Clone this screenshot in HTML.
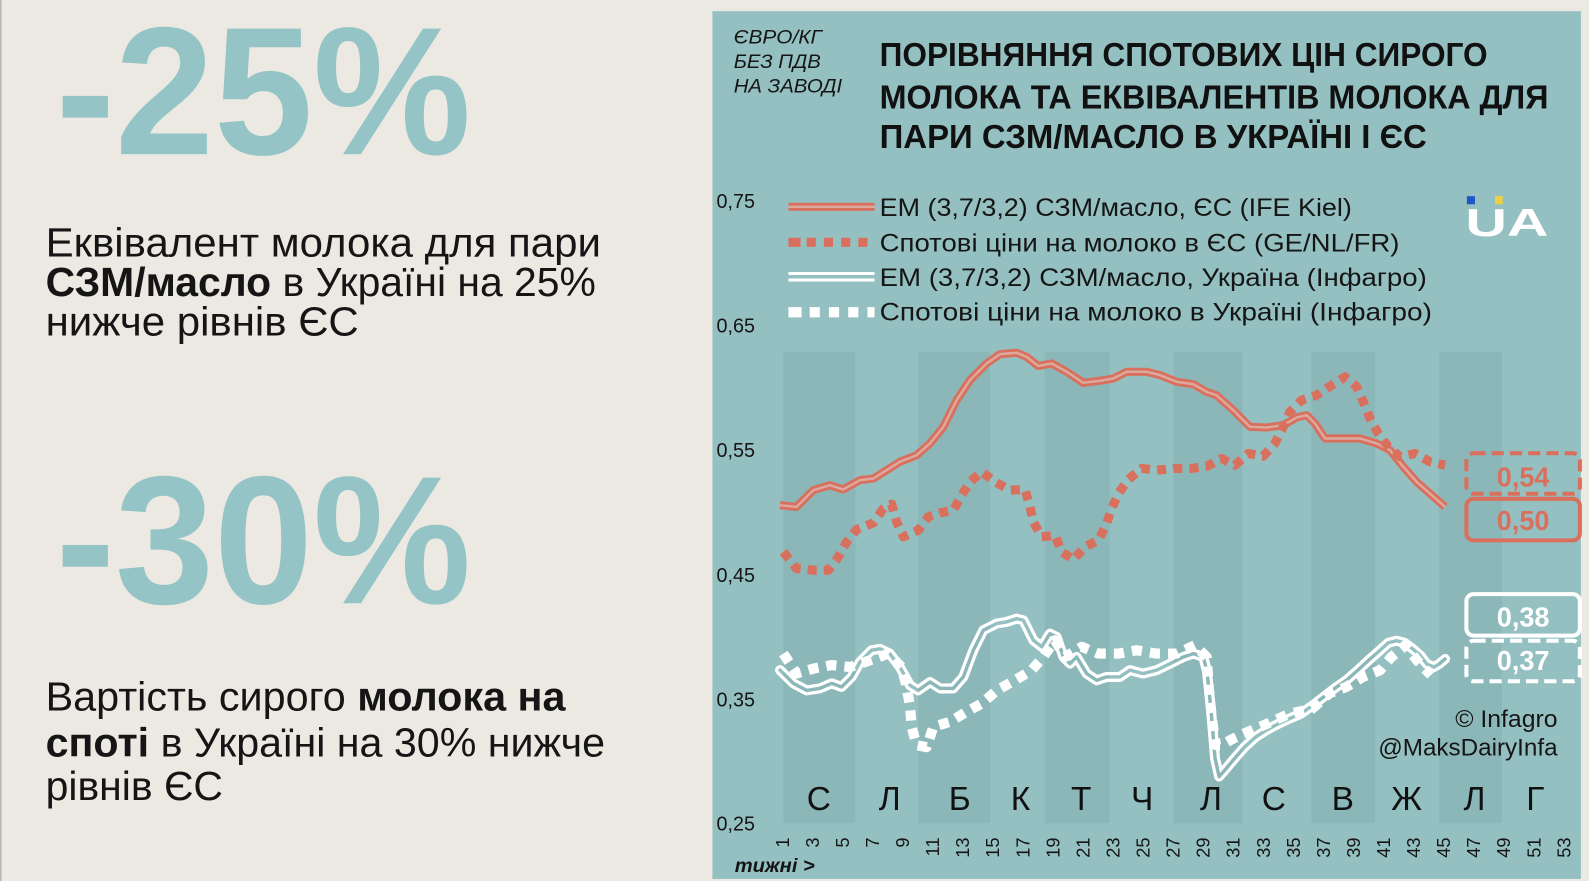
<!DOCTYPE html>
<html>
<head>
<meta charset="utf-8">
<style>
html,body{margin:0;padding:0;background:#ECE9E2;overflow:hidden;}
svg{display:block;}
text{font-family:"Liberation Sans","Noto Sans CJK SC",sans-serif;}
</style>
</head>
<body>
<svg width="1589" height="881" viewBox="0 0 1568 869" preserveAspectRatio="none" xmlns="http://www.w3.org/2000/svg" xmlns:xlink="http://www.w3.org/1999/xlink">
<defs>
  <polyline id="uaEm" fill="none" stroke-linejoin="round" stroke-linecap="round"
      points="769.7,661 782.8,674 796,681 809,679 820.7,674 830.5,677.6 840.4,667.7 848.6,653 860,641.4 868.4,640 878,644.7 888,658 898,676 906,681 917.7,672.7 927.6,679 940.7,679 950.6,667.7 960.5,641.4 970.3,621.7 983.5,615 993.4,613.4 1003.2,610.2 1009.8,611.8 1019.7,631.5 1027.9,638 1036,625 1042.7,628.3 1049.3,648 1055.9,654.6 1062.4,648 1072.3,664.4 1082.2,671 1092,667.7 1105,667.7 1115,661 1128,664.4 1141.4,661 1154.5,654.6 1167.7,648 1177.6,644.7 1187.4,648 1191,662 1195,700 1199,748 1203,766 1210,758 1216.6,750 1228,737 1239,727 1250,720 1261.3,714 1272,709 1283.7,704 1295,696 1306,687.5 1317,679 1328.5,671 1340,661 1350.8,651 1360,643 1370,634 1378,632 1386,634 1394,640 1401,646 1408,655 1415,658 1420,655 1426,650"/>
  <mask id="mUaEm" maskUnits="userSpaceOnUse" x="0" y="0" width="1568" height="869">
    <rect x="0" y="0" width="1568" height="869" fill="black"/>
    <use href="#uaEm" xlink:href="#uaEm" stroke="white" stroke-width="10"/>
    <use href="#uaEm" xlink:href="#uaEm" stroke="black" stroke-width="3.4"/>
  </mask>
  <mask id="mLeg" maskUnits="userSpaceOnUse" x="0" y="0" width="1568" height="869">
    <rect x="0" y="0" width="1568" height="869" fill="black"/>
    <line x1="778" y1="273" x2="863" y2="273" stroke="white" stroke-width="9.5"/>
    <line x1="778" y1="273" x2="863" y2="273" stroke="black" stroke-width="3.4"/>
  </mask>
</defs>

<!-- page background -->
<rect x="0" y="0" width="1568" height="869" fill="#ECE9E2"/>
<rect x="0" y="0" width="1.5" height="869" fill="#B9B5AC"/>

<!-- LEFT PANEL -->
<text x="55" y="152" font-size="180" font-weight="bold" fill="#94C4C6" textLength="410" lengthAdjust="spacingAndGlyphs">-25%</text>
<text x="45" y="253" font-size="40" fill="#151515" textLength="548" lengthAdjust="spacingAndGlyphs">Еквівалент молока для пари</text>
<text x="45" y="292" font-size="40" fill="#151515" textLength="543" lengthAdjust="spacingAndGlyphs"><tspan font-weight="bold">СЗМ/масло</tspan> в Україні на 25%</text>
<text x="45" y="331" font-size="40" fill="#151515" textLength="309" lengthAdjust="spacingAndGlyphs">нижче рівнів ЄС</text>

<text x="55" y="595" font-size="180" font-weight="bold" fill="#94C4C6" textLength="410" lengthAdjust="spacingAndGlyphs">-30%</text>
<text x="45" y="701" font-size="40" fill="#151515" textLength="513" lengthAdjust="spacingAndGlyphs">Вартість сирого <tspan font-weight="bold">молока на</tspan></text>
<text x="45" y="746" font-size="40" fill="#151515" textLength="552" lengthAdjust="spacingAndGlyphs"><tspan font-weight="bold">споті</tspan> в Україні на 30% нижче</text>
<text x="45" y="789" font-size="40" fill="#151515" textLength="175" lengthAdjust="spacingAndGlyphs">рівнів ЄС</text>

<!-- RIGHT PANEL -->
<rect x="703" y="11" width="857" height="856" fill="#95C0C1"/>

<!-- month bands -->
<g fill="#8CB7B9">
  <rect x="773" y="347" width="71" height="465"/>
  <rect x="906" y="347" width="71" height="465"/>
  <rect x="1031" y="347" width="64" height="465"/>
  <rect x="1158" y="347" width="68" height="465"/>
  <rect x="1294" y="347" width="63" height="465"/>
  <rect x="1420" y="347" width="62" height="465"/>
</g>

<!-- unit label -->
<g font-size="19" font-style="italic" fill="#151515">
  <text x="724" y="43" textLength="87" lengthAdjust="spacingAndGlyphs">ЄВРО/КГ</text>
  <text x="724" y="67" textLength="86" lengthAdjust="spacingAndGlyphs">БЕЗ ПДВ</text>
  <text x="724" y="91" textLength="107" lengthAdjust="spacingAndGlyphs">НА ЗАВОДІ</text>
</g>

<!-- title -->
<g font-size="33" font-weight="bold" fill="#111">
  <text x="868" y="65" textLength="600" lengthAdjust="spacingAndGlyphs">ПОРІВНЯННЯ СПОТОВИХ ЦІН СИРОГО</text>
  <text x="868" y="107" textLength="660" lengthAdjust="spacingAndGlyphs">МОЛОКА ТА ЕКВІВАЛЕНТІВ МОЛОКА ДЛЯ</text>
  <text x="868" y="146" textLength="540" lengthAdjust="spacingAndGlyphs">ПАРИ СЗМ/МАСЛО В УКРАЇНІ І ЄС</text>
</g>

<!-- y tick labels -->
<g font-size="20" fill="#151515">
  <text x="707" y="205" textLength="38" lengthAdjust="spacingAndGlyphs">0,75</text>
  <text x="707" y="328" textLength="38" lengthAdjust="spacingAndGlyphs">0,65</text>
  <text x="707" y="451" textLength="38" lengthAdjust="spacingAndGlyphs">0,55</text>
  <text x="707" y="574" textLength="38" lengthAdjust="spacingAndGlyphs">0,45</text>
  <text x="707" y="697" textLength="38" lengthAdjust="spacingAndGlyphs">0,35</text>
  <text x="707" y="819" textLength="38" lengthAdjust="spacingAndGlyphs">0,25</text>
</g>

<!-- legend -->
<line x1="778" y1="204" x2="863" y2="204" stroke="#D9705E" stroke-width="8"/>
<line x1="778" y1="204" x2="863" y2="204" stroke="#DDA99E" stroke-width="2.4"/>
<line x1="778" y1="239" x2="863" y2="239" stroke="#D9705E" stroke-width="9" stroke-dasharray="12 6 9 8 9 8 9 8 9 8"/>
<line x1="778" y1="273" x2="863" y2="273" stroke="#FFFFFF" stroke-width="9.5" mask="url(#mLeg)"/>
<line x1="778" y1="308" x2="863" y2="308" stroke="#FFFFFF" stroke-width="10" stroke-dasharray="13 8 10 9 10 9 10 9"/>
<g font-size="25" fill="#151515">
  <text x="868" y="213" textLength="466" lengthAdjust="spacingAndGlyphs">ЕМ (3,7/3,2) СЗМ/масло, ЄС (IFE Kiel)</text>
  <text x="868" y="248" textLength="513" lengthAdjust="spacingAndGlyphs">Спотові ціни на молоко в ЄС (GE/NL/FR)</text>
  <text x="868" y="282" textLength="540" lengthAdjust="spacingAndGlyphs">ЕМ (3,7/3,2) СЗМ/масло, Україна (Інфагро)</text>
  <text x="868" y="316" textLength="545" lengthAdjust="spacingAndGlyphs">Спотові ціни на молоко в Україні (Інфагро)</text>
</g>

<!-- UA logo -->
<rect x="1447.5" y="193.5" width="8" height="8" fill="#2255C8"/>
<rect x="1475.3" y="193.5" width="7.5" height="8" fill="#F0D040"/>
<text x="1446" y="233" font-size="38" font-weight="bold" fill="#FFFFFF" textLength="82" lengthAdjust="spacingAndGlyphs">UA</text>

<!-- EU EM series -->
<polyline fill="none" stroke="#D9705E" stroke-width="8" stroke-linejoin="round" stroke-linecap="butt"
  points="769.7,498.3 786,500 802.6,483.5 819,478.6 832,482.8 848.6,473.6 861.8,472 874.9,463.8 888,455.5 904.5,449 917.7,437.4 930.9,421 944,394.7 957.2,374.9 973.6,358.5 986.8,349.3 1003.2,348 1013,352 1024.6,361 1037.8,358.5 1052.6,366.7 1069,377.6 1085.5,375.6 1098.6,373.3 1111.8,366.7 1131.5,366.7 1144.7,370 1161,376.6 1177.6,379 1190.7,386.5 1200.6,390 1217,404.6 1233.4,421 1249.9,421.7 1266.3,419.4 1279.5,411.8 1289.4,409.5 1297.6,417.7 1307.5,432.5 1322.3,432.5 1342,432.5 1358.5,437.4 1371.6,444 1384.8,460.5 1397.9,475.3 1411,486.8 1426,500"/>
<polyline fill="none" stroke="#DDA99E" stroke-width="2.4" stroke-linejoin="round"
  points="769.7,498.3 786,500 802.6,483.5 819,478.6 832,482.8 848.6,473.6 861.8,472 874.9,463.8 888,455.5 904.5,449 917.7,437.4 930.9,421 944,394.7 957.2,374.9 973.6,358.5 986.8,349.3 1003.2,348 1013,352 1024.6,361 1037.8,358.5 1052.6,366.7 1069,377.6 1085.5,375.6 1098.6,373.3 1111.8,366.7 1131.5,366.7 1144.7,370 1161,376.6 1177.6,379 1190.7,386.5 1200.6,390 1217,404.6 1233.4,421 1249.9,421.7 1266.3,419.4 1279.5,411.8 1289.4,409.5 1297.6,417.7 1307.5,432.5 1322.3,432.5 1342,432.5 1358.5,437.4 1371.6,444 1384.8,460.5 1397.9,475.3 1411,486.8 1426,500"/>

<!-- EU spot series -->
<polyline fill="none" stroke="#D9705E" stroke-width="9" stroke-dasharray="9 7" stroke-linejoin="round"
  points="773,544.3 786,560.8 802.6,562.4 817.4,562.4 827.3,549.3 835.5,534.5 845.3,522.3 861.8,515.7 871.7,501.6 879.9,497.3 884.8,514.7 891.4,529.5 906.2,523 916,509.8 927.6,505.9 940.7,503.2 949,488.4 957.2,475.3 968.7,465.4 981.9,475.3 996.7,483.5 1011.5,482.8 1016.4,500 1019.7,514.7 1027.9,529.5 1041,528 1047.6,544.3 1059.2,552 1070.7,539.4 1084,532.8 1092,516.4 1097,501.6 1103.6,486.8 1113.4,473 1126.6,462 1141.4,463.8 1159.5,462 1175.9,462 1190.7,460 1205.5,452.3 1218.6,458.8 1231.8,447.3 1246.6,450 1258,437.4 1266.3,421 1272.9,406.2 1284.4,394.7 1299.2,389.8 1314,380 1327.2,371.7 1338.7,381.5 1345.3,396.3 1351.9,412.8 1360,427.6 1370,440.7 1381.5,450.6 1396.3,447.3 1411,455.5 1426,458.8"/>

<!-- UA EM series (double white) -->
<use href="#uaEm" xlink:href="#uaEm" stroke="#FFFFFF" stroke-width="10" mask="url(#mUaEm)"/>

<!-- UA spot series -->
<polyline fill="none" stroke="#FFFFFF" stroke-width="10" stroke-dasharray="10 8" stroke-linejoin="round"
  points="773,644.7 786,664.4 802.6,659.5 820.7,656 838.8,658 858.5,651.3 876.6,644.7 889.7,658 894.7,677.6 898,697 899.6,717 904.5,735 914.4,737 921,717 937.4,712 953.9,702 968.7,694 983.5,681 1001.6,671 1018,661 1029.5,648 1041,631.5 1051,648 1067.4,638 1083.8,644.7 1103.6,644.7 1121.6,641.4 1141.4,644.7 1161,644.7 1179,636.5 1190.7,648 1193,680 1196,710 1200,735 1205.4,735 1216,729 1227.7,723.6 1250,714 1272.5,704 1295,699 1311.7,684 1328.5,677.6 1345,667.7 1362,661 1373,648 1387,636.5 1398,651 1412,666"/>

<!-- value boxes -->
<rect x="1447" y="447" width="112" height="40" rx="7" fill="none" stroke="#D9705E" stroke-width="4" stroke-dasharray="12 6"/>
<rect x="1447" y="492" width="112" height="41" rx="7" fill="none" stroke="#D9705E" stroke-width="4"/>
<rect x="1447" y="586" width="112" height="41" rx="7" fill="none" stroke="#FFFFFF" stroke-width="4"/>
<rect x="1447" y="632" width="112" height="40" rx="7" fill="none" stroke="#FFFFFF" stroke-width="4" stroke-dasharray="12 6"/>
<g font-size="27" font-weight="bold" text-anchor="middle">
  <text x="1503" y="480" fill="#D9705E" textLength="52" lengthAdjust="spacingAndGlyphs">0,54</text>
  <text x="1503" y="523" fill="#D9705E" textLength="52" lengthAdjust="spacingAndGlyphs">0,50</text>
  <text x="1503" y="618" fill="#FFFFFF" textLength="52" lengthAdjust="spacingAndGlyphs">0,38</text>
  <text x="1503" y="661" fill="#FFFFFF" textLength="52" lengthAdjust="spacingAndGlyphs">0,37</text>
</g>

<!-- credits -->
<g font-size="24" fill="#151515" text-anchor="end">
  <text x="1537" y="717" textLength="101" lengthAdjust="spacingAndGlyphs">© Infagro</text>
  <text x="1537" y="745" textLength="177" lengthAdjust="spacingAndGlyphs">@MaksDairyInfa</text>
</g>

<!-- month letters -->
<g font-size="33" fill="#111" text-anchor="middle">
  <text x="808" y="799">С</text>
  <text x="878" y="799">Л</text>
  <text x="947" y="799">Б</text>
  <text x="1007" y="799">К</text>
  <text x="1067" y="799">Т</text>
  <text x="1127" y="799">Ч</text>
  <text x="1195" y="799">Л</text>
  <text x="1257" y="799">С</text>
  <text x="1325" y="799">В</text>
  <text x="1388" y="799">Ж</text>
  <text x="1455" y="799">Л</text>
  <text x="1515" y="799">Г</text>
</g>

<!-- week tick labels -->
<g font-size="18" fill="#151515" text-anchor="end" dominant-baseline="central">
  <text transform="translate(772,826) rotate(-90)">1</text>
  <text transform="translate(801.7,826) rotate(-90)">3</text>
  <text transform="translate(831.3,826) rotate(-90)">5</text>
  <text transform="translate(861,826) rotate(-90)">7</text>
  <text transform="translate(890.6,826) rotate(-90)">9</text>
  <text transform="translate(920.3,826) rotate(-90)">11</text>
  <text transform="translate(950,826) rotate(-90)">13</text>
  <text transform="translate(979.6,826) rotate(-90)">15</text>
  <text transform="translate(1009.3,826) rotate(-90)">17</text>
  <text transform="translate(1038.9,826) rotate(-90)">19</text>
  <text transform="translate(1068.6,826) rotate(-90)">21</text>
  <text transform="translate(1098.3,826) rotate(-90)">23</text>
  <text transform="translate(1127.9,826) rotate(-90)">25</text>
  <text transform="translate(1157.6,826) rotate(-90)">27</text>
  <text transform="translate(1187.2,826) rotate(-90)">29</text>
  <text transform="translate(1216.9,826) rotate(-90)">31</text>
  <text transform="translate(1246.6,826) rotate(-90)">33</text>
  <text transform="translate(1276.2,826) rotate(-90)">35</text>
  <text transform="translate(1305.9,826) rotate(-90)">37</text>
  <text transform="translate(1335.5,826) rotate(-90)">39</text>
  <text transform="translate(1365.2,826) rotate(-90)">41</text>
  <text transform="translate(1394.9,826) rotate(-90)">43</text>
  <text transform="translate(1424.5,826) rotate(-90)">45</text>
  <text transform="translate(1454.2,826) rotate(-90)">47</text>
  <text transform="translate(1483.8,826) rotate(-90)">49</text>
  <text transform="translate(1513.5,826) rotate(-90)">51</text>
  <text transform="translate(1543.2,826) rotate(-90)">53</text>
</g>
<text x="725" y="860" font-size="19" font-weight="bold" font-style="italic" fill="#151515" textLength="79" lengthAdjust="spacingAndGlyphs">тижні &gt;</text>
</svg>
</body>
</html>
